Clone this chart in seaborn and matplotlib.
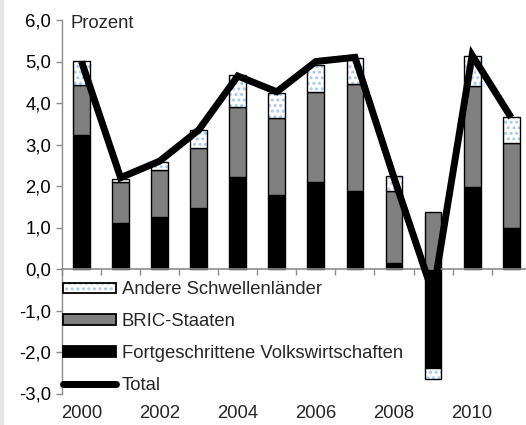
import numpy as np
import seaborn as sns
import matplotlib.pyplot as plt
from matplotlib.patches import Patch, Rectangle
from matplotlib.lines import Line2D
from matplotlib.legend_handler import HandlerTuple

years = [str(y) for y in range(2000, 2012)]
year_labels = ["2000", "2002", "2004", "2006", "2008", "2010"]

# Wachstumsbeiträge in Prozentpunkten
advanced = [3.23, 1.10, 1.26, 1.46, 2.22, 1.78, 2.10, 1.88, 0.15, -2.39, 1.97, 0.99]
bric = [1.20, 1.00, 1.13, 1.46, 1.69, 1.85, 2.17, 2.57, 1.74, 1.38, 2.44, 2.05]
other_em = [0.57, 0.08, 0.20, 0.43, 0.76, 0.62, 0.65, 0.63, 0.35, -0.25, 0.72, 0.62]
total = [5.0, 2.2, 2.6, 3.35, 4.65, 4.27, 5.0, 5.1, 2.2, -0.6, 5.15, 3.65]

yticks = [-3, -2, -1, 0, 1, 2, 3, 4, 5, 6]

sns.set_style("white")
plt.rcParams["font.family"] = ["Liberation Sans", "DejaVu Sans"]
plt.rcParams["hatch.linewidth"] = 1.4

DOT = "#a9c8ec"
GRAY = "#808080"
SPINE = "#8c8c8c"
FS = 13.3

fig = plt.figure(figsize=(5.26, 4.25), dpi=100)
ax = fig.add_axes([62 / 526, 1 - 393.5 / 425, 468.7 / 526, 373.5 / 425])
fig.patches.append(Rectangle((0, 0), 3 / 526, 1, transform=fig.transFigure,
                             color="#e6e6e6", zorder=-1))

# stacking: positive parts upwards, negative parts downwards
pos_base = np.zeros(len(years))
neg_base = np.zeros(len(years))
bottoms = []
for vals in [advanced, bric, other_em]:
  v = np.array(vals)
  bottoms.append(np.where(v >= 0, pos_base, neg_base))
  pos_base = pos_base + np.clip(v, 0, None)
  neg_base = neg_base + np.clip(v, None, 0)

bw = 0.43
sns.barplot(x=years, y=advanced, bottom=bottoms[0], order=years, color="black",
            edgecolor="black", linewidth=1.0, width=bw, saturation=1, ax=ax)
sns.barplot(x=years, y=bric, bottom=bottoms[1], order=years, color=GRAY,
            edgecolor="black", linewidth=1.0, width=bw, saturation=1, ax=ax)
sns.barplot(x=years, y=other_em, bottom=bottoms[2], order=years, color="white",
            edgecolor=DOT, linewidth=0, hatch="...", width=bw, saturation=1, ax=ax)
sns.barplot(x=years, y=other_em, bottom=bottoms[2], order=years, fill=False,
            color="black", linewidth=1.0, width=bw, ax=ax)

sns.lineplot(x=np.arange(len(years)), y=total, color="black", linewidth=5,
             solid_joinstyle="miter", solid_capstyle="butt", ax=ax, zorder=5)

ax.set_ylim(-3, 6)
ax.set_xlim(-0.5, len(years) - 0.5)
ax.set_yticks(yticks)
ax.set_yticklabels([f"{t:.1f}".replace(".", ",") for t in yticks], fontsize=FS)
ax.set_xticks(np.arange(len(years) + 1) - 0.5)
ax.set_xticklabels([])
ax.set_xlabel("")
ax.set_ylabel("")

for s in ["top", "right"]:
  ax.spines[s].set_visible(False)
ax.spines["left"].set_color(SPINE)
ax.spines["bottom"].set_color(SPINE)
ax.spines["left"].set_linewidth(1.0)
ax.spines["bottom"].set_linewidth(1.2)
ax.spines["bottom"].set_position(("data", 0))
ax.tick_params(axis="y", direction="out", length=4, width=1, color=SPINE,
               labelcolor="black", pad=4, left=True)
ax.tick_params(axis="x", direction="out", length=4, width=1, color=SPINE, bottom=True)

for lab in year_labels:
  ax.annotate(lab, xy=(years.index(lab), 0), xycoords=ax.get_xaxis_transform(),
              xytext=(0, -14.5), textcoords="offset points", ha="center",
              va="center", fontsize=FS)

ax.text(0.0186, 0.991, "Prozent", transform=ax.transAxes, ha="left",
        va="center", fontsize=FS)

h_other = (Patch(facecolor="white", edgecolor=DOT, hatch="...", linewidth=0),
           Patch(facecolor="none", edgecolor="black", linewidth=1.3))
h_bric = Patch(facecolor=GRAY, edgecolor="black", linewidth=1.3)
h_adv = Patch(facecolor="black", edgecolor="black", linewidth=1.3)
h_tot = Line2D([], [], color="black", linewidth=5, solid_capstyle="round")
ax.legend([h_other, h_bric, h_adv, h_tot],
          ["Andere Schwellenländer", "BRIC-Staaten",
           "Fortgeschrittene Volkswirtschaften", "Total"],
          handler_map={tuple: HandlerTuple(ndivide=1)},
          loc="upper left", bbox_to_anchor=(0.002, 0.30), frameon=False,
          fontsize=FS, handlelength=2.85, handleheight=0.5, handletextpad=0.33,
          labelspacing=0.8, borderpad=0, borderaxespad=0)

plt.savefig("out.png", dpi=100)
